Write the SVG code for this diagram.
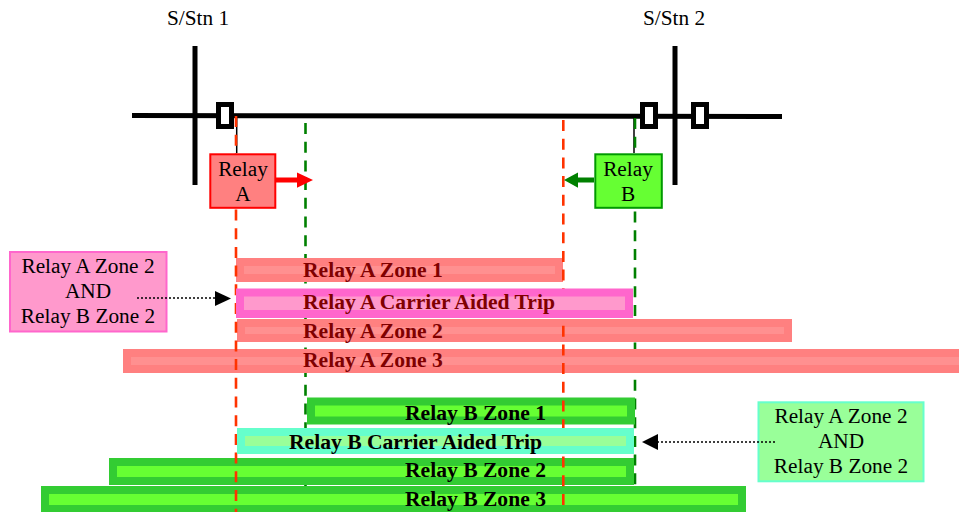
<svg xmlns="http://www.w3.org/2000/svg" width="959" height="512" viewBox="0 0 959 512">
<style>
text{font-family:"Liberation Serif","Times New Roman",serif;font-size:21.3px;fill:#000}
.c{text-anchor:middle}
.b{font-weight:bold;font-size:21.6px}
.dr{fill:#800000}
.za{fill:#FF9090;stroke:#FF8080;stroke-width:8}
.zb{fill:#66FF33;stroke:#33CC33;stroke-width:8}
.ca{fill:#FF99CC;stroke:#FF66CC;stroke-width:8}
.cb{fill:#99FF99;stroke:#66FFCC;stroke-width:8}
.rd{stroke:#FF3300;stroke-width:2.6;stroke-dasharray:11 7.7;fill:none}
.gd{stroke:#008000;stroke-width:2.6;stroke-dasharray:11 7.7;fill:none}
.bus{stroke:#000;stroke-width:5;fill:none}
.cbk{fill:#fff;stroke:#000;stroke-width:5}
.dot{stroke:#000;stroke-width:1.6;stroke-dasharray:2 2;fill:none}
.tie{stroke:#000;stroke-width:1.5;fill:none}
</style>
<g id="busbars">
<path class="bus" d="M132 115.500L782 116.500"/>
<path class="bus" d="M195 46V185"/>
<path class="bus" d="M675 46V185"/>
</g>
<g id="connectors">
<path class="tie" d="M236.700 116V153"/>
<path class="tie" d="M634 116V153"/>
<path class="gd" d="M305.500 123V512"/>
<path class="gd" d="M635 118V512"/>
</g>
<g id="breakers">
<rect class="cbk" x="218.500" y="104.500" width="13" height="22"/>
<rect class="cbk" x="642.500" y="104.500" width="13" height="22"/>
<rect class="cbk" x="693.500" y="104.500" width="13" height="22"/>
</g>
<g id="zone-bars">
<rect id="a-zone-1" class="za" x="240" y="262" width="319" height="16"/>
<rect id="a-zone-2" class="za" x="241" y="323" width="547" height="15"/>
<rect id="a-zone-3" class="za" x="127" y="353" width="840" height="16"/>
<rect id="b-zone-1" class="zb" x="311" y="401.500" width="320" height="19"/>
<rect id="b-zone-2" class="zb" x="113" y="462" width="517" height="19"/>
<rect id="b-zone-3" class="zb" x="45" y="490" width="697" height="19"/>
</g>
<g id="reach-lines">
<path class="rd" d="M236 116V512"/>
<path class="rd" d="M563.300 120V512"/>
</g>
<g id="carrier-bars">
<rect id="a-carrier" class="ca" x="240" y="292.500" width="389" height="21.500"/>
<rect id="b-carrier" class="cb" x="241" y="432" width="389" height="18"/>
</g>
<g id="relay-a">
<rect x="210.300" y="154.300" width="65" height="53.500" fill="#FF8080" stroke="#FF0000" stroke-width="2"/>
<text class="c" x="243" y="176">Relay</text>
<text class="c" x="243" y="201">A</text>
<path d="M276 177.500H297V172.500L313 180L297 187.700V182.500H276Z" fill="#FF0000"/>
</g>
<g id="relay-b">
<rect x="595.300" y="154.300" width="66.500" height="53.500" fill="#66FF33" stroke="#009900" stroke-width="2"/>
<text class="c" x="628" y="176">Relay</text>
<text class="c" x="628" y="201">B</text>
<path d="M594 177.500H578V172.500L564 180L578 187.700V182.500H594Z" fill="#008000"/>
</g>
<g id="stations">
<text x="167" y="25">S/Stn 1</text>
<text x="643" y="25">S/Stn 2</text>
</g>
<g id="note-a">
<rect x="10" y="252" width="156.500" height="79.500" fill="#FF99CC" stroke="#FF66CC" stroke-width="2"/>
<text class="c" x="88" y="273">Relay A Zone 2</text>
<text class="c" x="88" y="298">AND</text>
<text class="c" x="88" y="323">Relay B Zone 2</text>
</g>
<g id="note-b">
<rect x="758.500" y="402.300" width="165" height="79" fill="#99FF99" stroke="#66FFCC" stroke-width="2"/>
<text class="c" x="841" y="423">Relay A Zone 2</text>
<text class="c" x="841" y="448">AND</text>
<text class="c" x="841" y="473">Relay B Zone 2</text>
</g>
<g id="note-connectors">
<path class="dot" d="M137 298H216"/>
<path d="M215 291L231 298.500L215 306Z" fill="#000"/>
<path class="dot" d="M775 442H658"/>
<path d="M658 434L642 442L658 450Z" fill="#000"/>
</g>
<g id="zone-labels">
<text class="b dr" x="303" y="277">Relay A Zone 1</text>
<text class="b dr" x="303" y="309">Relay A Carrier Aided Trip</text>
<text class="b dr" x="303" y="338">Relay A Zone 2</text>
<text class="b dr" x="303" y="367">Relay A Zone 3</text>
<text class="b" x="405" y="420">Relay B Zone 1</text>
<text class="b" x="289" y="449">Relay B Carrier Aided Trip</text>
<text class="b" x="405" y="477">Relay B Zone 2</text>
<text class="b" x="405" y="506">Relay B Zone 3</text>
</g>
</svg>
